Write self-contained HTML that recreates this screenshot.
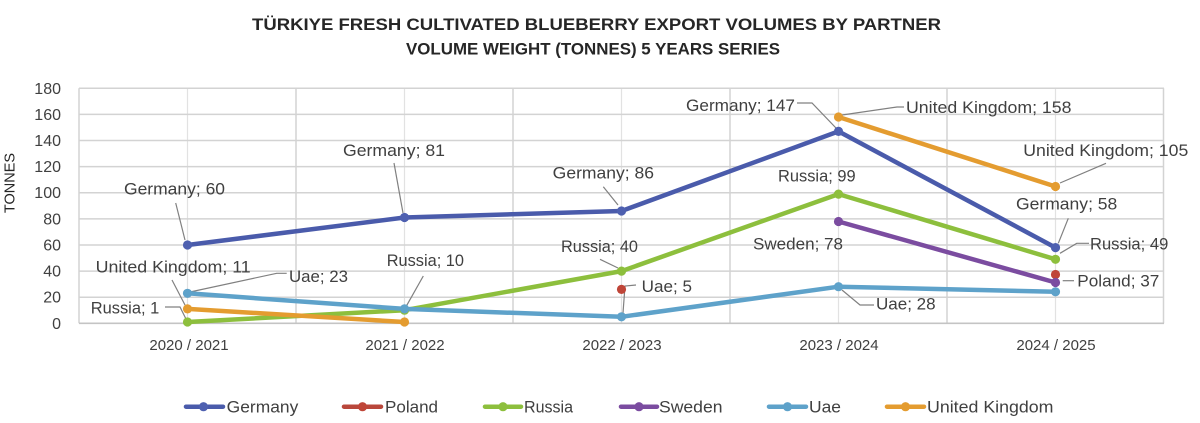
<!DOCTYPE html>
<html>
<head>
<meta charset="utf-8">
<style>
html,body{margin:0;padding:0;background:#fff;}
svg{display:block;}
text{font-family:"Liberation Sans",Arial,sans-serif;}
</style>
</head>
<body>
<svg width="1200" height="423" viewBox="0 0 1200 423" xmlns="http://www.w3.org/2000/svg">
<rect x="0" y="0" width="1200" height="423" fill="#ffffff"/>

<!-- Titles -->
<text x="252" y="30" font-size="17" font-weight="bold" fill="#262626" textLength="689" lengthAdjust="spacingAndGlyphs">TÜRKIYE FRESH CULTIVATED BLUEBERRY EXPORT VOLUMES BY PARTNER</text>
<text x="406" y="54.5" font-size="16.5" font-weight="bold" fill="#262626" textLength="374" lengthAdjust="spacingAndGlyphs">VOLUME WEIGHT (TONNES) 5 YEARS SERIES</text>

<!-- Gridlines vertical -->
<g stroke="#e2e2e2" stroke-width="1.2">
<line x1="187.5" y1="88.3" x2="187.5" y2="323.3"/>
<line x1="404.5" y1="88.3" x2="404.5" y2="323.3"/>
<line x1="621.5" y1="88.3" x2="621.5" y2="323.3"/>
<line x1="838.5" y1="88.3" x2="838.5" y2="323.3"/>
<line x1="1055.5" y1="88.3" x2="1055.5" y2="323.3"/>
</g>
<g stroke="#d3d3d3" stroke-width="1.5">
<line x1="79" y1="88.3" x2="79" y2="323.3"/>
<line x1="296" y1="88.3" x2="296" y2="323.3"/>
<line x1="513" y1="88.3" x2="513" y2="323.3"/>
<line x1="730" y1="88.3" x2="730" y2="323.3"/>
<line x1="947" y1="88.3" x2="947" y2="323.3"/>
<line x1="1163.5" y1="88.3" x2="1163.5" y2="323.3"/>
</g>
<!-- Gridlines horizontal -->
<g stroke="#d3d3d3" stroke-width="1.5">
<line x1="79" y1="88.3" x2="1164" y2="88.3"/>
<line x1="79" y1="114.4" x2="1164" y2="114.4"/>
<line x1="79" y1="140.5" x2="1164" y2="140.5"/>
<line x1="79" y1="166.6" x2="1164" y2="166.6"/>
<line x1="79" y1="192.7" x2="1164" y2="192.7"/>
<line x1="79" y1="218.9" x2="1164" y2="218.9"/>
<line x1="79" y1="245.0" x2="1164" y2="245.0"/>
<line x1="79" y1="271.1" x2="1164" y2="271.1"/>
<line x1="79" y1="297.2" x2="1164" y2="297.2"/>
</g>
<line x1="79" y1="323.3" x2="1164" y2="323.3" stroke="#c4c4c4" stroke-width="1.6"/>

<!-- Y axis labels -->
<g font-size="16" fill="#404040" text-anchor="end">
<text x="61" y="94">180</text>
<text x="61" y="120">160</text>
<text x="61" y="146">140</text>
<text x="61" y="172">120</text>
<text x="61" y="198">100</text>
<text x="61" y="224.5">80</text>
<text x="61" y="250.5">60</text>
<text x="61" y="276.5">40</text>
<text x="61" y="302.5">20</text>
<text x="61" y="329">0</text>
</g>
<text transform="translate(14.5,183) rotate(-90)" font-size="14.5" fill="#262626" text-anchor="middle">TONNES</text>

<!-- X axis labels -->
<g font-size="15" fill="#404040" text-anchor="middle">
<text x="189" y="350">2020 / 2021</text>
<text x="405" y="350">2021 / 2022</text>
<text x="622" y="350">2022 / 2023</text>
<text x="839" y="350">2023 / 2024</text>
<text x="1056" y="350">2024 / 2025</text>
</g>

<!-- Leader lines -->
<g stroke="#808080" stroke-width="1.2" fill="none">
<polyline points="175.7,203 185,240"/>
<polyline points="394,163 403,213"/>
<polyline points="603.3,186.7 618,205"/>
<polyline points="797,103 812,103 836,128"/>
<polyline points="842,115 897,107 904,107"/>
<polyline points="1060,183 1106,163.3"/>
<polyline points="1068.3,218.3 1058.3,243.3"/>
<polyline points="1060,253.3 1076.7,243.3 1089,243.3"/>
<polyline points="1062.7,280.7 1074,280.7"/>
<polyline points="842,290 860,305 874,305"/>
<polyline points="636,285 625,286 623,313"/>
<polyline points="600,259.3 618,268"/>
<polyline points="172,280 185,305"/>
<polyline points="190,292 276.7,273.3 286.7,273.3"/>
<polyline points="165,307 180,307 186,319"/>
<polyline points="423.3,276 406,306.7"/>
</g>

<!-- Series -->
<g fill="none" stroke-width="4.5" stroke-linejoin="round" stroke-linecap="round">
<!-- Germany -->
<polyline stroke="#4a5bab" points="187.5,245.0 404.5,217.5 621.5,211.0 838.5,131.4 1055.5,247.6"/>
<!-- Russia -->
<polyline stroke="#8dbf3d" points="187.5,322.0 404.5,310.2 621.5,271.1 838.5,194.1 1055.5,259.3"/>
<!-- Sweden -->
<polyline stroke="#7b4ca0" points="838.5,221.5 1055.5,282.5"/>
<!-- Uae -->
<polyline stroke="#5ea2ca" points="187.5,293.3 404.5,308.9 621.5,316.8 838.5,286.7 1055.5,291.8"/>
<!-- UK -->
<polyline stroke="#e49c30" points="187.5,308.9 404.5,322.0"/>
<polyline stroke="#e49c30" points="838.5,117.0 1055.5,186.5"/>
</g>
<!-- Markers -->
<g fill="#4e60b0">
<circle cx="187.5" cy="245.0" r="4.6"/><circle cx="404.5" cy="217.5" r="4.6"/><circle cx="621.5" cy="211.0" r="4.6"/><circle cx="838.5" cy="131.4" r="4.6"/><circle cx="1055.5" cy="247.6" r="4.6"/>
</g>
<g fill="#bf4538">
<circle cx="621.5" cy="289.4" r="4.6"/><circle cx="1055.5" cy="274.5" r="4.6"/>
</g>
<g fill="#8dbf3d">
<circle cx="187.5" cy="322.0" r="4.6"/><circle cx="404.5" cy="310.2" r="4.6"/><circle cx="621.5" cy="271.1" r="4.6"/><circle cx="838.5" cy="194.1" r="4.6"/><circle cx="1055.5" cy="259.3" r="4.6"/>
</g>
<g fill="#7b4ca0">
<circle cx="838.5" cy="221.5" r="4.6"/><circle cx="1055.5" cy="282.5" r="4.6"/>
</g>
<g fill="#5ea2ca">
<circle cx="187.5" cy="293.3" r="4.6"/><circle cx="404.5" cy="308.9" r="4.6"/><circle cx="621.5" cy="316.8" r="4.6"/><circle cx="838.5" cy="286.7" r="4.6"/><circle cx="1055.5" cy="291.8" r="4.6"/>
</g>
<g fill="#e49c30">
<circle cx="187.5" cy="308.9" r="4.6"/><circle cx="404.5" cy="322.0" r="4.6"/><circle cx="838.5" cy="117.0" r="4.6"/><circle cx="1055.5" cy="186.5" r="4.6"/>
</g>

<!-- Data labels -->
<g font-size="17" fill="#404040" lengthAdjust="spacingAndGlyphs">
<text x="124" y="194.5" textLength="101" lengthAdjust="spacingAndGlyphs">Germany; 60</text>
<text x="343" y="156" textLength="102" lengthAdjust="spacingAndGlyphs">Germany; 81</text>
<text x="552.7" y="178.7" textLength="101.3" lengthAdjust="spacingAndGlyphs">Germany; 86</text>
<text x="686" y="111" textLength="109" lengthAdjust="spacingAndGlyphs">Germany; 147</text>
<text x="906" y="113" textLength="165.5" lengthAdjust="spacingAndGlyphs">United Kingdom; 158</text>
<text x="1023.3" y="156" textLength="165" lengthAdjust="spacingAndGlyphs">United Kingdom; 105</text>
<text x="778" y="181.7" textLength="77.6" lengthAdjust="spacingAndGlyphs">Russia; 99</text>
<text x="1016" y="209.3" textLength="101.3" lengthAdjust="spacingAndGlyphs">Germany; 58</text>
<text x="1090" y="249.3" textLength="78.3" lengthAdjust="spacingAndGlyphs">Russia; 49</text>
<text x="1077.3" y="286.7" textLength="82" lengthAdjust="spacingAndGlyphs">Poland; 37</text>
<text x="753" y="249.3" textLength="90" lengthAdjust="spacingAndGlyphs">Sweden; 78</text>
<text x="876" y="309.3" textLength="59.6" lengthAdjust="spacingAndGlyphs">Uae; 28</text>
<text x="641.7" y="292" textLength="50.3" lengthAdjust="spacingAndGlyphs">Uae; 5</text>
<text x="561" y="252" textLength="77" lengthAdjust="spacingAndGlyphs">Russia; 40</text>
<text x="95.7" y="272.7" textLength="155" lengthAdjust="spacingAndGlyphs">United Kingdom; 11</text>
<text x="289" y="282" textLength="59" lengthAdjust="spacingAndGlyphs">Uae; 23</text>
<text x="90.7" y="313.3" textLength="68.6" lengthAdjust="spacingAndGlyphs">Russia; 1</text>
<text x="386.7" y="266" textLength="77.3" lengthAdjust="spacingAndGlyphs">Russia; 10</text>
</g>

<!-- Legend -->
<g stroke-width="4.5" stroke-linecap="round">
<line x1="186" y1="406.7" x2="223" y2="406.7" stroke="#4a5bab"/>
<line x1="344" y1="406.7" x2="381" y2="406.7" stroke="#b9473b"/>
<line x1="485" y1="406.7" x2="521" y2="406.7" stroke="#8dbf3d"/>
<line x1="621" y1="406.7" x2="657" y2="406.7" stroke="#7b4ca0"/>
<line x1="769" y1="406.7" x2="806" y2="406.7" stroke="#5ea2ca"/>
<line x1="887" y1="406.7" x2="924" y2="406.7" stroke="#e49c30"/>
</g>
<circle cx="203.5" cy="406.7" r="4.6" fill="#4e60b0"/>
<circle cx="362.5" cy="406.7" r="4.6" fill="#bf4538"/>
<circle cx="503" cy="406.7" r="4.6" fill="#8dbf3d"/>
<circle cx="639" cy="406.7" r="4.6" fill="#7b4ca0"/>
<circle cx="787.5" cy="406.7" r="4.6" fill="#5ea2ca"/>
<circle cx="905.5" cy="406.7" r="4.6" fill="#e49c30"/>
<g font-size="17" fill="#404040">
<text x="226.7" y="412.5" textLength="71.6" lengthAdjust="spacingAndGlyphs">Germany</text>
<text x="385" y="412.5" textLength="53" lengthAdjust="spacingAndGlyphs">Poland</text>
<text x="524" y="412.5" textLength="49" lengthAdjust="spacingAndGlyphs">Russia</text>
<text x="659" y="412.5" textLength="63.5" lengthAdjust="spacingAndGlyphs">Sweden</text>
<text x="809" y="412.5" textLength="32" lengthAdjust="spacingAndGlyphs">Uae</text>
<text x="927" y="412.5" textLength="126.5" lengthAdjust="spacingAndGlyphs">United Kingdom</text>
</g>
</svg>
</body>
</html>
